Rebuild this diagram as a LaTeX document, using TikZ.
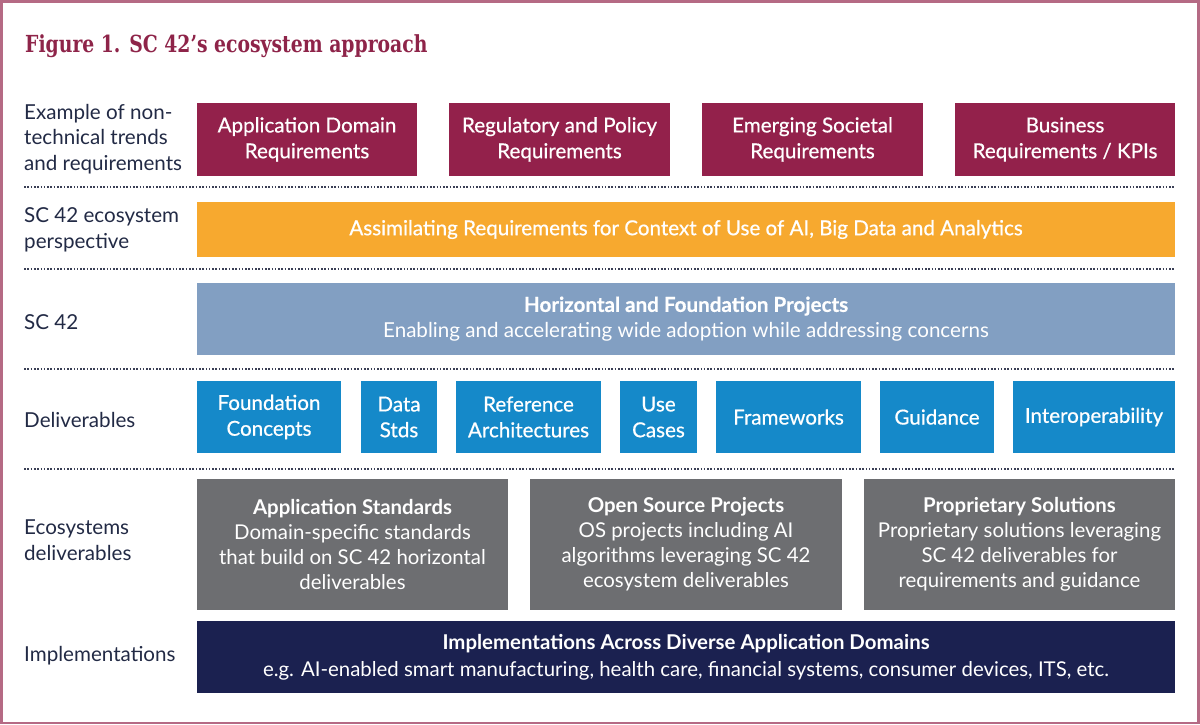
\documentclass[tikz,border=0pt]{standalone}
\usepackage{fontspec}
\setmainfont{Lato}
\newfontfamily\latomed{Lato}[FakeBold=0.6]
\newfontfamily\titlefont{DejaVu Serif}
\usepackage{tikz}
\definecolor{frameline}{HTML}{B56A84}
\definecolor{titlered}{HTML}{8E2449}
\definecolor{maroonbox}{HTML}{93214B}
\definecolor{orangebox}{HTML}{F7A92F}
\definecolor{steelbox}{HTML}{829FC2}
\definecolor{bluebox}{HTML}{1589C9}
\definecolor{greybox}{HTML}{6D6E71}
\definecolor{navybox}{HTML}{1B2150}
\definecolor{labeltext}{HTML}{222A45}
\definecolor{dotline}{HTML}{3A3F55}
\tikzset{
  rowlabel/.style={anchor=west, align=left, text=labeltext, inner sep=0pt, font=\fontsize{20.6}{25.5}\selectfont},
  block/.style={fill=#1, text=white, align=center, inner sep=0pt, font=\latomed\fontsize{20.6}{25.8}\selectfont},
  rowsep/.style={dotline, line width=1.8pt, dash pattern=on 1.6pt off 1.7pt}
}
\begin{document}
\begin{tikzpicture}[x=1pt, y=-1pt]
			%%%%% FRAME %%%%%
			\useasboundingbox (0, 0) rectangle (1200, 725);
			\draw[frameline, line width=2.5pt] (1.5, 1.5) rectangle (1198.5, 723);
			
			\node[anchor=base west, inner sep=0pt, text=titlered] (title) at (25, 52.5) {\scalebox{0.8}[1]{\titlefont\bfseries\fontsize{23.5}{26}\selectfont Figure 1. SC 42’s ecosystem approach}};
			
			%%%%% ROW LABELS %%%%%
			\node[rowlabel] (lbltrends) at (24, 139) {Example of non-\\technical trends\\and requirements};
			\node[rowlabel] (lblpersp) at (24, 230) {SC 42 ecosystem\\perspective};
			\node[rowlabel] (lblsc) at (24, 322) {SC 42};
			\node[rowlabel] (lbldeliv) at (24, 420) {Deliverables};
			\node[rowlabel] (lbleco) at (24, 540) {Ecosystems\\deliverables};
			\node[rowlabel] (lblimpl) at (24, 656) {Implementations};
			
			%%%%% DOTTED SEPARATORS %%%%%
			\draw[rowsep] (24, 187) -- (1175, 187);
			\draw[rowsep] (24, 269) -- (1175, 269);
			\draw[rowsep] (24, 369) -- (1175, 369);
			\draw[rowsep] (24, 469) -- (1175, 469);
			
			%%%%% REQUIREMENTS %%%%%
			\node[block=maroonbox, minimum width=220pt, minimum height=73pt] (appdom) at (307, 139.5) {Application Domain\\Requirements};
			\node[block=maroonbox, minimum width=221pt, minimum height=73pt] (regpol) at (559.5, 139.5) {Regulatory and Policy\\Requirements};
			\node[block=maroonbox, minimum width=221pt, minimum height=73pt] (emsoc) at (812.5, 139.5) {Emerging Societal\\Requirements};
			\node[block=maroonbox, minimum width=220pt, minimum height=73pt] (busreq) at (1065, 139.5) {Business\\Requirements / KPIs};
			
			\node[block=orangebox, minimum width=978pt, minimum height=55pt] (assim) at (686, 229.5) {Assimilating Requirements for Context of Use of AI, Big Data and Analytics};
			
			\node[block=steelbox, minimum width=978pt, minimum height=72pt] (horiz) at (686, 319) {{\bfseries Horizontal and Foundation Projects}\\{\normalfont\fontsize{20.6}{25.8}\selectfont Enabling and accelerating wide adoption while addressing concerns}};
			
			%%%%% DELIVERABLES %%%%%
			\node[block=bluebox, minimum width=144pt, minimum height=72pt] (fndcon) at (269, 417) {Foundation\\Concepts};
			\node[block=bluebox, minimum width=76pt, minimum height=72pt] (datastd) at (399, 417) {Data\\Stds};
			\node[block=bluebox, minimum width=145pt, minimum height=72pt] (refarch) at (528.5, 417) {Reference\\Architectures};
			\node[block=bluebox, minimum width=77pt, minimum height=72pt] (usecase) at (658.5, 417) {Use\\Cases};
			\node[block=bluebox, minimum width=145pt, minimum height=72pt] (framewk) at (788.5, 417) {Frameworks};
			\node[block=bluebox, minimum width=114pt, minimum height=72pt] (guide) at (937, 417) {Guidance};
			\node[block=bluebox, minimum width=162pt, minimum height=72pt] (interop) at (1094, 417) {Interoperability};
			
			%%%%% ECOSYSTEM %%%%%
			\node[block=greybox, minimum width=311pt, minimum height=131pt, font=\fontsize{20.4}{25}\selectfont] (appstd) at (352.5, 544.5) {\textbf{Application Standards}\\Domain-specific standards\\that build on SC 42 horizontal\\deliverables};
			\node[block=greybox, minimum width=312pt, minimum height=131pt, font=\fontsize{20.4}{25}\selectfont] (opensrc) at (686, 544.5) {\textbf{Open Source Projects}\\OS projects including AI\\algorithms leveraging SC 42\\ecosystem deliverables};
			\node[block=greybox, minimum width=311pt, minimum height=131pt, font=\fontsize{20.4}{25}\selectfont] (propsol) at (1019.5, 544.5) {\textbf{Proprietary Solutions}\\Proprietary solutions leveraging\\SC 42 deliverables for\\requirements and guidance};
			
			\node[block=navybox, minimum width=978pt, minimum height=72pt, font=\fontsize{20.4}{27}\selectfont] (impl) at (686, 657) {\textbf{Implementations Across Diverse Application Domains}\\e.g. AI-enabled smart manufacturing, health care, financial systems, consumer devices, ITS, etc.};
			
			%%%%% END %%%%%
\end{tikzpicture}
\end{document}
